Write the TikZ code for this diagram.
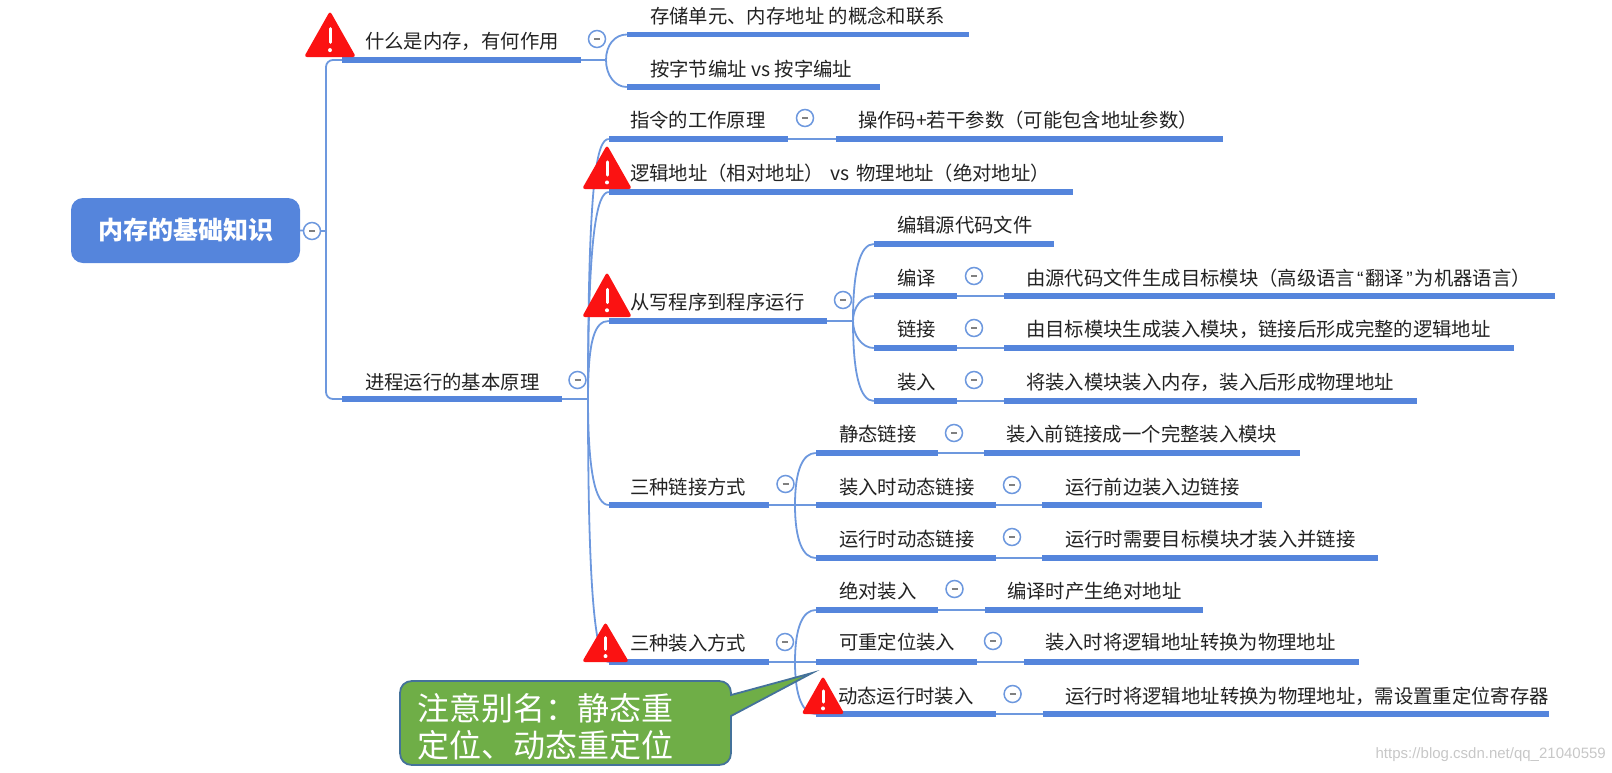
\documentclass[tikz,border=0pt]{standalone}
\usepackage{fontspec}
\setmainfont{Noto Sans CJK SC}
\newfontfamily\latfont{Liberation Sans}
\definecolor{lineblue}{HTML}{5585DC}
\definecolor{thinblue}{HTML}{6D98DE}
\definecolor{warnred}{HTML}{FB1212}
\definecolor{callgreen}{HTML}{6FAE47}
\definecolor{callborder}{HTML}{44729A}
\definecolor{inktext}{HTML}{222222}
\tikzset{
  conn/.style={draw=thinblue,line width=1.8pt},
  bar/.style={rectangle,fill=lineblue,minimum height=5.2pt,inner sep=0pt},
  label/.style={anchor=west,inner sep=0pt,text=inktext,font=\fontsize{19.35}{22}\selectfont,text height=16pt,text depth=1.5pt},
  mc/.style={circle,draw=thinblue,line width=1.5pt,fill=white,minimum size=17pt,inner sep=0pt,
    path picture={\draw[gray,line width=1.2pt] ([xshift=-3pt]path picture bounding box.center) -- ([xshift=3pt]path picture bounding box.center);}},
  rootbox/.style={rectangle,rounded corners=12pt,fill=lineblue,minimum width=229pt,minimum height=65pt,inner sep=0pt,text=white,font=\fontsize{25}{28}\bfseries\selectfont},
  callbox/.style={draw=callborder,fill=callgreen,line width=1.8pt},
  calltext/.style={anchor=west,inner sep=0pt,align=left,text=white,font=\fontsize{32}{37}\selectfont},
  wmtext/.style={anchor=east,inner sep=0pt,text=black!22,font=\latfont\fontsize{15}{17}\selectfont}
}
\newcommand\topic[7]{%
  \node[bar,minimum width={(#3-#2)*1pt}] (#1) at ({(#2+#3)/2},#4) {};
  \node[label] (#1t) at (#5,#6) {#7};}
\newcommand\arm[4]{\draw[conn] (#1) .. controls +(#3) and +(#4) .. (#2.west);}
\newcommand\warn[4]{%
  \begin{scope}[shift={(#1,#2)}]
    \fill[warnred,rounded corners=3pt] (0,-3) -- ({#3/2+2},#4) -- ({-#3/2-2},#4) -- cycle;
    \draw[white,line width=3pt,line cap=round] (0,{#4*.34}) -- (0,{#4*.66});
    \fill[white] (0,{#4*.84}) circle (2pt);
  \end{scope}}
\begin{document}
\begin{tikzpicture}[x=1pt,y=-1pt]
\useasboundingbox (0,0) rectangle (1612,772);
% root
\node[rootbox] (root) at (185.5,230.5) {内存的基础知识};
% level 1
\topic{a}{342}{581}{60}{365}{41}{什么是内存，有何作用}
\topic{b}{342}{562}{399}{365}{382}{进程运行的基本原理}
% under a
\topic{a1}{627}{969}{34.5}{650}{16.5}{存储单元、内存地址 的概念和联系}
\topic{a2}{627}{880}{87}{650}{69}{按字节编址 vs 按字编址}
% under b
\topic{c}{609}{788}{139}{630}{120}{指令的工作原理}
\topic{c1}{836}{1223}{139}{858}{120}{操作码+若干参数（可能包含地址参数）}
\topic{d}{609}{1073}{192}{630}{173}{逻辑地址（相对地址）\hspace{2pt} vs \hspace{3pt}物理地址（绝对地址）}
\topic{e}{609}{827}{321}{630}{302}{从写程序到程序运行}
\topic{e1}{874}{1054}{244}{897}{225}{编辑源代码文件}
\topic{e2}{874}{957}{296}{897}{278}{编译}
\topic{e2c}{1004}{1555}{296}{1026}{278}{由源代码文件生成目标模块（高级语言\hspace{2pt}{\latfont“}\hspace{2pt}翻译\hspace{2pt}{\latfont”}\hspace{2pt}为机器语言）}
\topic{e3}{874}{957}{348}{897}{329}{链接}
\topic{e3c}{1004}{1514}{348}{1026}{329}{由目标模块生成装入模块，链接后形成完整的逻辑地址}
\topic{e4}{874}{957}{401}{897}{382}{装入}
\topic{e4c}{1004}{1417}{401}{1026}{382}{将装入模块装入内存，装入后形成物理地址}
\topic{f}{609}{769}{505}{630}{487}{三种链接方式}
\topic{f1}{816}{938}{453}{839}{434}{静态链接}
\topic{f1c}{984}{1300}{453}{1006}{434}{装入前链接成一个完整装入模块}
\topic{f2}{816}{996}{505}{839}{487}{装入时动态链接}
\topic{f2c}{1042}{1262}{505}{1065}{487}{运行前边装入边链接}
\topic{f3}{816}{996}{558}{839}{539}{运行时动态链接}
\topic{f3c}{1042}{1378}{558}{1065}{539}{运行时需要目标模块才装入并链接}
\topic{g}{609}{769}{662}{630}{643}{三种装入方式}
\topic{g1}{816}{938}{610}{839}{591}{绝对装入}
\topic{g1c}{985}{1203}{610}{1007}{591}{编译时产生绝对地址}
\topic{g2}{816}{977}{662}{839}{642}{可重定位装入}
\topic{g2c}{1024}{1359}{662}{1045}{642}{装入时将逻辑地址转换为物理地址}
\topic{g3}{816}{996}{714}{838}{696}{动态运行时装入}
\topic{g3c}{1043}{1549}{714}{1065}{696}{运行时将逻辑地址转换为物理地址，需设置重定位寄存器}
% junctions
\coordinate (jr) at (326,231);
\coordinate (ja) at (606,60);
\coordinate (jb) at (588,399);
\coordinate (je) at (853,321);
\coordinate (jf) at (795,505);
\coordinate (jg) at (795,662);
\coordinate (tip) at (812,673);
% connectors
\draw[conn] (root.east) -- (jr);
\draw[conn,rounded corners=7pt] (jr) |- (a.west);
\draw[conn,rounded corners=7pt] (jr) |- (b.west);
\draw[conn] (a.east) -- (ja);
\arm{ja}{a1}{0,-15}{-12,0}
\arm{ja}{a2}{0,15}{-12,0}
\draw[conn] (b.east) -- (jb);
\arm{jb}{c}{0,-220}{-12,0}
\arm{jb}{d}{0,-165}{-12,0}
\arm{jb}{e}{0,-60}{-14,0}
\arm{jb}{f}{0,70}{-14,0}
\arm{jb}{g}{0,190}{-14,0}
\draw[conn] (c.east) -- (c1.west);
\draw[conn] (e.east) -- (je);
\arm{je}{e1}{0,-50}{-14,0}
\arm{je}{e2}{0,-14}{-12,0}
\arm{je}{e3}{0,14}{-12,0}
\arm{je}{e4}{0,52}{-14,0}
\draw[conn] (e2.east) -- (e2c.west);
\draw[conn] (e3.east) -- (e3c.west);
\draw[conn] (e4.east) -- (e4c.west);
\draw[conn] (f.east) -- (jf);
\arm{jf}{f1}{0,-35}{-13,0}
\draw[conn] (jf) -- (f2.west);
\arm{jf}{f3}{0,35}{-13,0}
\draw[conn] (f1.east) -- (f1c.west);
\draw[conn] (f2.east) -- (f2c.west);
\draw[conn] (f3.east) -- (f3c.west);
\draw[conn] (g.east) -- (jg);
\arm{jg}{g1}{0,-35}{-13,0}
\draw[conn] (jg) -- (g2.west);
\arm{jg}{g3}{0,35}{-13,0}
\draw[conn] (g1.east) -- (g1c.west);
\draw[conn] (g2.east) -- (g2c.west);
\draw[conn] (g3.east) -- (g3c.west);
% collapse circles
\node[mc] (m0) at (312,231) {};
\node[mc] (m1) at (597,39) {};
\node[mc] (m2) at (577.5,380) {};
\node[mc] (m3) at (805,118) {};
\node[mc] (m4) at (843,300) {};
\node[mc] (m5) at (974,276) {};
\node[mc] (m6) at (974,328) {};
\node[mc] (m7) at (974,380) {};
\node[mc] (m8) at (785.5,484) {};
\node[mc] (m9) at (954,433) {};
\node[mc] (m10) at (1012,485) {};
\node[mc] (m11) at (1012,537) {};
\node[mc] (m12) at (785,642) {};
\node[mc] (m13) at (954.5,589) {};
\node[mc] (m14) at (993,641) {};
\node[mc] (m15) at (1012.6,694) {};
% warnings
\warn{330}{14}{48}{43}
\warn{607}{148}{46}{41}
\warn{607}{275}{46}{42}
\warn{605.5}{625}{43}{37}
\warn{823}{679}{39}{35}
% callout
\draw[callbox] (412,681) -- (719,681) .. controls (726,681) and (731,686) .. (731,693)
  -- (731,695) -- (tip) -- (731,716) -- (731,753)
  .. controls (731,760) and (726,765) .. (719,765) -- (412,765)
  .. controls (405,765) and (400,760) .. (400,753) -- (400,693)
  .. controls (400,686) and (405,681) .. (412,681) -- cycle;
\node[calltext] (note) at (417,727) {注意别名：静态重\\定位、动态重定位};
% watermark
\node[wmtext] (wm) at (1606,755) {https://blog.csdn.net/qq\_21040559};
\end{tikzpicture}
\end{document}
